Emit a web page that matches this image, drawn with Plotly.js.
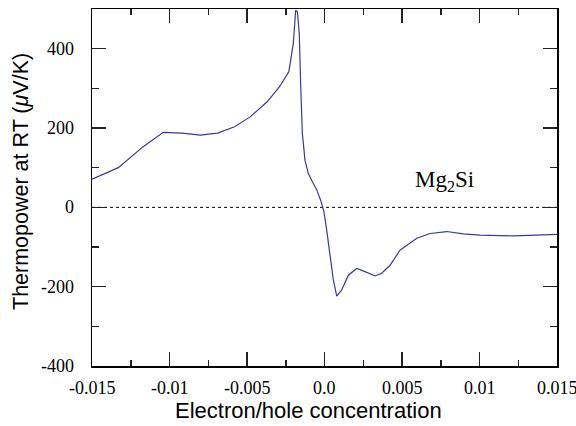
<!DOCTYPE html>
<html>
<head>
<meta charset="utf-8">
<script src="https://cdn.plot.ly/plotly-3.0.1.min.js"></script>
<style>html,body{margin:0;padding:0;background:#fff;}#chart{width:576px;height:426px;}</style>
</head>
<body>
<div id="chart"></div>
<script>
// Electron/hole concentration
const conc = [-0.015, -0.0133, -0.0117, -0.0104, -0.0092, -0.008, -0.0069, -0.0058, -0.0048, -0.0037, -0.0029, -0.0023, -0.00201, -0.00186, -0.00175, -0.00163, -0.00154, -0.00143, -0.00126, -0.00105, -0.00072, -0.0005, -0.00025, -0.00005, 0.00014, 0.00035, 0.00057, 0.00079, 0.0011, 0.00154, 0.00208, 0.00261, 0.00326, 0.00369, 0.00423, 0.00487, 0.00595, 0.00681, 0.00789, 0.00895, 0.01003, 0.01218, 0.015];
// Thermopower at RT (uV/K)
const thermopower = [71, 100, 153, 189, 187, 182, 187, 203, 228, 266, 304, 342, 414, 497, 493, 439, 313, 187, 119, 86, 60, 44, 18, -8, -57, -125, -183, -224, -209, -171, -154, -162, -173, -166, -146, -108, -78, -66, -61, -67, -70, -72, -68];
const xTickVals = [-0.015, -0.01, -0.005, 0, 0.005, 0.01, 0.015];
const xTickText = ["-0.015", "-0.01", "-0.005", "0.0", "0.005", "0.01", "0.015"];
const yTickVals = [-400, -200, 0, 200, 400];
const yTickText = ["-400", "-200", "0", "200", "400"];
const labelText = "Mg<sub>2</sub>Si";
const labelPos = [0.00777, 66];

const serif = "Liberation Serif";
const sans = "Liberation Sans";
const tickFont = {family: serif, size: 18, color: '#000'};

const traces = [{
  x: conc, y: thermopower, type: 'scatter', mode: 'lines',
  line: {color: '#3a3a9c', width: 1.2}, hoverinfo: 'skip'
}];

const axisBase = {
  showgrid: false, zeroline: false, showline: true, linecolor: '#000', linewidth: 1.5,
  mirror: 'ticks', ticks: 'inside', tickcolor: '#222', tickwidth: 1.5, ticklen: 14,
  showticklabels: false, tickmode: 'array'
};

const tickAnnotations = [];
xTickVals.forEach((v, i) => tickAnnotations.push({
  text: xTickText[i], x: v, xref: 'x', y: 0, yref: 'paper', xanchor: 'center', yanchor: 'top',
  yshift: -10, showarrow: false, font: tickFont
}));
yTickVals.forEach((v, i) => tickAnnotations.push({
  text: yTickText[i], x: 0, xref: 'paper', y: v, yref: 'y', xanchor: 'right', yanchor: 'middle',
  xshift: -16, showarrow: false, font: tickFont
}));

const layout = {
  width: 576, height: 426,
  margin: {l: 92, r: 19, t: 9, b: 60},
  paper_bgcolor: '#fff', plot_bgcolor: '#fff',
  showlegend: false,
  xaxis: Object.assign({}, axisBase, {
    tickvals: xTickVals, range: [-0.015, 0.015],
    minor: {dtick: 0.0025, tick0: 0, ticks: 'inside', ticklen: 6, tickcolor: '#222', tickwidth: 1.5, showgrid: false}
  }),
  yaxis: Object.assign({}, axisBase, {
    tickvals: yTickVals, range: [-400, 500],
    minor: {dtick: 100, tick0: 0, ticks: 'inside', ticklen: 7, tickcolor: '#222', tickwidth: 1.5, showgrid: false}
  }),
  shapes: [{
    type: 'line', xref: 'x', yref: 'y', x0: -0.015, x1: 0.015, y0: 0, y1: 0,
    line: {color: '#000', width: 1, dash: 'dot'}, layer: 'below'
  }],
  annotations: tickAnnotations.concat([
    {text: labelText, x: labelPos[0], y: labelPos[1], xref: 'x', yref: 'y', showarrow: false,
     font: {family: serif, size: 23, color: '#000'}},
    {text: 'Electron/hole concentration', xref: 'paper', yref: 'paper', x: (308-92)/465, y: -(410-366)/357,
     xanchor: 'center', yanchor: 'middle', showarrow: false, font: {family: sans, size: 22, color: '#000'}},
    {text: 'Thermopower at RT (<i>μ</i>V/K)', xref: 'paper', yref: 'paper', x: -(92-21)/465, y: (366-182)/357,
     xanchor: 'center', yanchor: 'middle', textangle: -90, showarrow: false, font: {family: sans, size: 21.5, color: '#000'}}
  ])
};

Plotly.newPlot('chart', traces, layout, {staticPlot: true, displayModeBar: false});
</script>
</body>
</html>
